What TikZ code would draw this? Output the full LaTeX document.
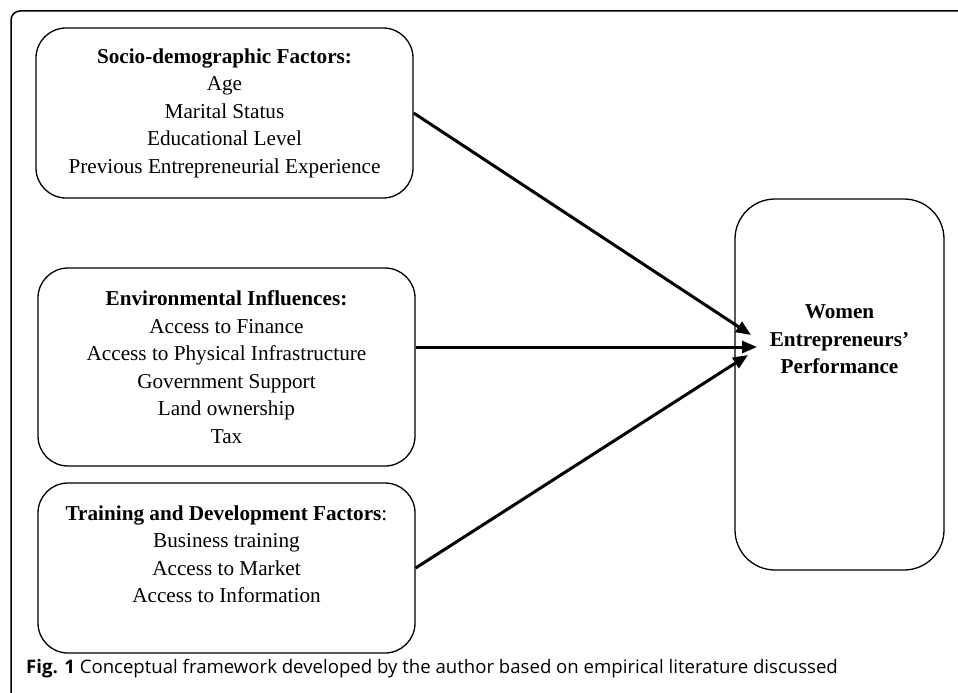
\documentclass[tikz,border=0pt]{standalone}
\usepackage{fontspec}
\setmainfont{Liberation Serif}
\newfontfamily\capfont{Open Sans}
\usetikzlibrary{arrows.meta}
\begin{document}
\begin{tikzpicture}[x=1pt,y=-1pt,
  factorbox/.style={draw, line width=1.3pt, rounded corners=30pt, align=center,
    font=\fontsize{21.2}{27.5}\selectfont, inner sep=0pt},
  link/.style={line width=3pt, -{Triangle[length=15pt,width=12pt]}}]
\useasboundingbox (0,0) rectangle (958,693);
\draw[line width=1.5pt, rounded corners=9pt] (11,693) -- (11,11) -- (958,11);

\node[factorbox, minimum width=377pt, minimum height=170pt] (socio) at (224.5,113)
  {\textbf{Socio-demographic Factors:}\\Age\\Marital Status\\Educational Level\\Previous Entrepreneurial Experience};
\node[factorbox, minimum width=377pt, minimum height=198pt] (env) at (226.5,367)
  {\textbf{Environmental Influences:}\\Access to Finance\\Access to Physical Infrastructure\\Government Support\\Land ownership\\Tax};
\node[factorbox, minimum width=377pt, minimum height=170pt] (train) at (226.5,568)
  {\textbf{Training and Development Factors}:\\Business training\\Access to Market\\Access to Information\\\mbox{}};

\node[draw, line width=1.3pt, rounded corners=40pt, minimum width=209pt, minimum height=371pt] (perf) at (839.5,384.5) {};
\node[align=center, font=\fontsize{21.2}{27.5}\selectfont\bfseries] (perftext) at (839.5,339.5)
  {Women\\Entrepreneurs'\\Performance};

\coordinate (t1) at (751,335);
\coordinate (t2) at (757,347);
\coordinate (t3) at (748,355);
\draw[link] (socio.east) -- (t1);
\draw[link] (env.east |- t2) -- (t2);
\draw[link] (train.east) -- (t3);

\node[anchor=base west, inner sep=0pt, font=\capfont\fontsize{18.6}{20}\selectfont] (cap) at (26,673)
  {\textbf{Fig. 1} Conceptual framework developed by the author based on empirical literature discussed};
\end{tikzpicture}
\end{document}
